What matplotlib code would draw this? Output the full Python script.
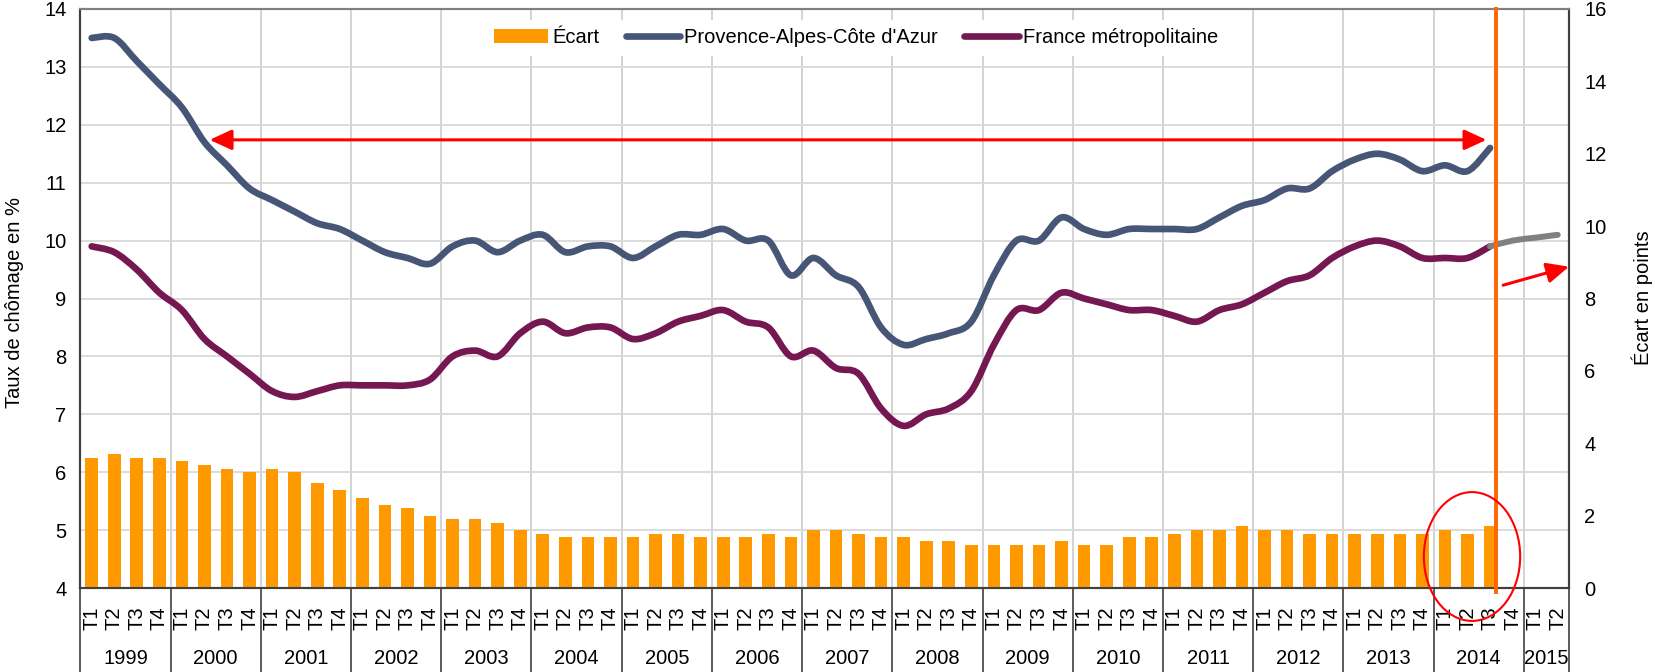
import numpy as np
import matplotlib.pyplot as plt
from matplotlib.path import Path
from matplotlib.patches import PathPatch, Ellipse
from matplotlib.lines import Line2D

plt.rcParams['font.family'] = ['Liberation Sans', 'DejaVu Sans']

years = list(range(1999, 2016))
quarters = ["T1", "T2", "T3", "T4"] * 16 + ["T1", "T2"]

# écart PACA - France, en points (axe de droite)
ecart = [3.6, 3.7, 3.6, 3.6,
         3.5, 3.4, 3.3, 3.2,
         3.3, 3.2, 2.9, 2.7,
         2.5, 2.3, 2.2, 2.0,
         1.9, 1.9, 1.8, 1.6,
         1.5, 1.4, 1.4, 1.4,
         1.4, 1.5, 1.5, 1.4,
         1.4, 1.4, 1.5, 1.4,
         1.6, 1.6, 1.5, 1.4,
         1.4, 1.3, 1.3, 1.2,
         1.2, 1.2, 1.2, 1.3,
         1.2, 1.2, 1.4, 1.4,
         1.5, 1.6, 1.6, 1.7,
         1.6, 1.6, 1.5, 1.5,
         1.5, 1.5, 1.5, 1.5,
         1.6, 1.5, 1.7]

paca = [13.5, 13.5, 13.1, 12.7,
        12.3, 11.7, 11.3, 10.9,
        10.7, 10.5, 10.3, 10.2,
        10.0, 9.8, 9.7, 9.6,
        9.9, 10.0, 9.8, 10.0,
        10.1, 9.8, 9.9, 9.9,
        9.7, 9.9, 10.1, 10.1,
        10.2, 10.0, 10.0, 9.4,
        9.7, 9.4, 9.2, 8.5,
        8.2, 8.3, 8.4, 8.6,
        9.4, 10.0, 10.0, 10.4,
        10.2, 10.1, 10.2, 10.2,
        10.2, 10.2, 10.4, 10.6,
        10.7, 10.9, 10.9, 11.2,
        11.4, 11.5, 11.4, 11.2,
        11.3, 11.2, 11.6]

france = [9.9, 9.8, 9.5, 9.1,
          8.8, 8.3, 8.0, 7.7,
          7.4, 7.3, 7.4, 7.5,
          7.5, 7.5, 7.5, 7.6,
          8.0, 8.1, 8.0, 8.4,
          8.6, 8.4, 8.5, 8.5,
          8.3, 8.4, 8.6, 8.7,
          8.8, 8.6, 8.5, 8.0,
          8.1, 7.8, 7.7, 7.1,
          6.8, 7.0, 7.1, 7.4,
          8.2, 8.8, 8.8, 9.1,
          9.0, 8.9, 8.8, 8.8,
          8.7, 8.6, 8.8, 8.9,
          9.1, 9.3, 9.4, 9.7,
          9.9, 10.0, 9.9, 9.7,
          9.7, 9.7, 9.9]

# prolongement (gris) 2014 T3 -> 2015 T2
france_prev = [9.9, 10.0, 10.05, 10.1]

C_PACA = "#475677"
C_FRANCE = "#751851"
C_BAR = "#FF9900"
FS = 14.5


def smooth_path(x, y):
    # courbe lissée type Excel (Catmull-Rom -> Bézier)
    pts = np.column_stack([x, y]).astype(float)
    n = len(pts)
    verts = [pts[0]]
    codes = [Path.MOVETO]
    for i in range(n - 1):
        p0 = pts[max(i - 1, 0)]
        p1 = pts[i]
        p2 = pts[i + 1]
        p3 = pts[min(i + 2, n - 1)]
        verts += [p1 + (p2 - p0) / 6, p2 - (p3 - p1) / 6, p2]
        codes += [Path.CURVE4] * 3
    return Path(verts, codes)


fig = plt.figure(figsize=(16.55, 6.72), dpi=100)
ax = fig.add_axes([80.4 / 1655, 1 - 588 / 672, (1569 - 80.4) / 1655, (588 - 9) / 672])
ax2 = ax.twinx()

nq = len(quarters)
idx = np.arange(nq)
ax.set_xlim(-0.5, nq - 0.5)
ax.set_ylim(4, 14)
ax2.set_ylim(0, 16)

# grille
ax.set_yticks(range(4, 15))
ax.grid(axis="y", color="#d9d9d9", lw=1.3)
bounds = [-0.5]
pos = -0.5
for y in years:
    n = 4 if y < 2015 else 2
    pos += n
    bounds.append(pos)
ax.set_xticks(bounds, minor=True)
ax.grid(axis="x", which="minor", color="#d0d0d0", lw=1.3)
ax.grid(axis="x", which="major", visible=False)
ax.tick_params(axis="x", which="minor", length=61, width=1.2, color="#404040", direction="out")

ax.set_xticks(idx)
ax.set_xticklabels(quarters, rotation=90, fontsize=FS)
ax.tick_params(axis="x", which="major", length=0, pad=13)
ax.tick_params(axis="y", length=0, pad=10, labelsize=FS)
ax2.set_yticks(range(0, 17, 2))
ax2.tick_params(axis="y", length=0, pad=11, labelsize=FS)

# années
for k, y in enumerate(years):
    ax.text((bounds[k] + bounds[k + 1]) / 2, -0.1226, str(y), transform=ax.get_xaxis_transform(),
            ha="center", va="center", fontsize=FS)

# barres
bars = ax2.bar(idx[:len(ecart)], ecart, width=0.56, color=C_BAR, zorder=2)

# courbes
for vals, col in [(paca, C_PACA), (france, C_FRANCE)]:
    ax.add_patch(PathPatch(smooth_path(idx[:len(vals)], vals), fc="none", ec=col, lw=4.8,
                           capstyle="round", joinstyle="round", zorder=3))
start = len(france) - 1
ax.add_patch(PathPatch(smooth_path(idx[start:start + len(france_prev)], france_prev), fc="none",
                       ec="#808080", lw=4.3, capstyle="round", zorder=3))

# annotations
head = "head_length=1.35,head_width=0.62"
ax.annotate("", xy=(61.84, 11.74), xytext=(5.23, 11.74),
            arrowprops=dict(arrowstyle="<|-|>," + head, mutation_scale=10,
                            color="red", lw=2.2, shrinkA=0, shrinkB=0), zorder=4)
ax.annotate("", xy=(65.5, 9.55), xytext=(62.58, 9.23), annotation_clip=False,
            arrowprops=dict(arrowstyle="-|>," + head, mutation_scale=10,
                            color="red", lw=2.2, shrinkA=0, shrinkB=0), zorder=4)
ax2.plot([62.26, 62.26], [-0.11, 16], color="#FF6600", lw=2.8, clip_on=False, zorder=5)
ax2.add_patch(Ellipse((61.2, 0.87), width=4.27, height=3.56, fill=False, ec="red", lw=1.5,
                      clip_on=False, zorder=6))

# légende
handles = [bars,
           Line2D([0], [0], color=C_PACA, lw=4.8, solid_capstyle="round"),
           Line2D([0], [0], color=C_FRANCE, lw=4.8, solid_capstyle="round")]
labels = ["Écart", "Provence-Alpes-Côte d'Azur", "France métropolitaine"]
leg = ax2.legend(handles, labels, loc="center", bbox_to_anchor=(0.521, 0.95), ncol=3, fontsize=FS,
                 handlelength=2.7, handletextpad=0.2, columnspacing=1.3, borderaxespad=0,
                 frameon=True, fancybox=False, framealpha=1)
leg.get_frame().set_facecolor("white")
leg.get_frame().set_linewidth(0)

for a in (ax, ax2):
    a.spines["left"].set_color("#404040")
    a.spines["bottom"].set_color("#404040")
    a.spines["right"].set_color("#404040")
    a.spines["top"].set_color("#808080")
    for s in a.spines.values():
        s.set_linewidth(1.5)

fig.text(14.5 / 1655, 1 - 302 / 672, "Taux de chômage en %", rotation=90, ha="center", va="center",
         fontsize=FS)
fig.text(1642 / 1655, 1 - 298 / 672, "Écart en points", rotation=90, ha="center", va="center",
         fontsize=FS)

fig.savefig("out.png", dpi=100)
